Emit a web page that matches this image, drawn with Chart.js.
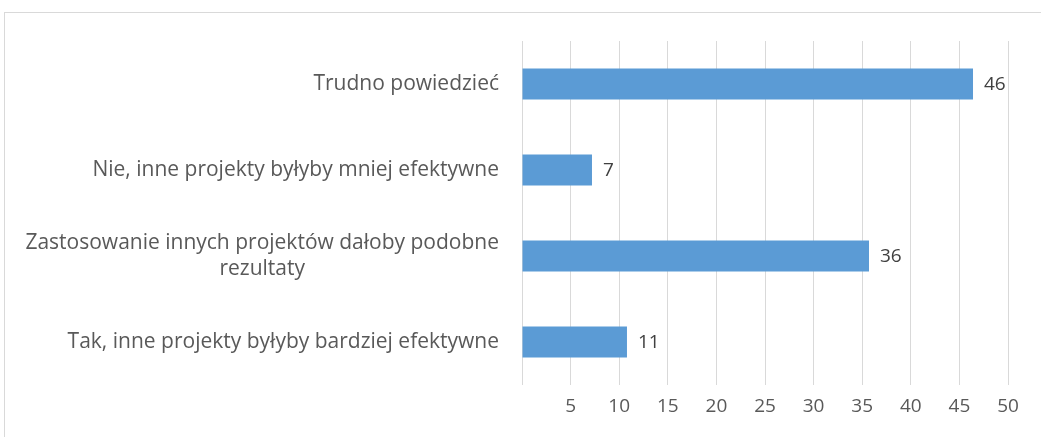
<!DOCTYPE html>
<html>
<head>
<meta charset="utf-8">
<script src="https://cdn.jsdelivr.net/npm/chart.js@4.4.0/dist/chart.umd.min.js"></script>
<style>
  html, body { margin: 0; padding: 0; background: #fff; }
  #wrap { position: relative; width: 1041px; height: 437px; overflow: hidden; }
  #frame { position: absolute; left: 4px; top: 12px; width: 1100px; height: 500px; border: 1px solid #d9d9d9; box-sizing: border-box; }
  #chart { position: absolute; left: 0; top: 0; }
</style>
</head>
<body>
<div id="wrap">
  <div id="frame"></div>
  <canvas id="chart" width="1041" height="437"></canvas>
</div>
<script>
// dane z wykresu (od góry do dołu)
const categories = [
  ["Trudno powiedzieć"],
  ["Nie, inne projekty byłyby mniej efektywne"],
  ["Zastosowanie innych projektów dałoby podobne", "rezultaty"],
  ["Tak, inne projekty byłyby bardziej efektywne"],
]
const values = [46.4, 7.2, 35.7, 10.8]
const xTicks = [0, 5, 10, 15, 20, 25, 30, 35, 40, 45, 50]

const FONT = "'Open Sans', sans-serif"
const LABEL_SIZE = 21
const NUM_SIZE = 19

// etykiety kategorii (wyśrodkowane jak w Excelu, gdy są dwie linie)
const categoryLabels = {
  id: "categoryLabels",
  afterDraw(chart) {
    const ctx = chart.ctx
    const y = chart.scales.y
    const right = chart.chartArea.left - 23
    ctx.save()
    ctx.font = `${LABEL_SIZE}px ${FONT}`
    ctx.fillStyle = "#595959"
    ctx.textBaseline = "middle"
    ctx.textAlign = "center"
    categories.forEach((lines, i) => {
      const cy = y.getPixelForTick(i)
      const lh = 26
      const maxW = Math.max(...lines.map((l) => ctx.measureText(l).width))
      const center = right - maxW / 2
      lines.forEach((line, j) => {
        const ly = cy + (j - (lines.length - 1) / 2) * lh
        ctx.fillText(line, center, ly)
      })
    })
    ctx.restore()
  },
}

// etykiety wartości przy słupkach
const valueLabels = {
  id: "valueLabels",
  afterDatasetsDraw(chart) {
    const ctx = chart.ctx
    const meta = chart.getDatasetMeta(0)
    ctx.save()
    ctx.font = `${NUM_SIZE}px ${FONT}`
    ctx.fillStyle = "#404040"
    ctx.textAlign = "left"
    ctx.textBaseline = "middle"
    meta.data.forEach((bar, i) => {
      ctx.fillText(Math.round(values[i]), bar.x + 11, bar.y + 1)
    })
    ctx.restore()
  },
}

new Chart(document.getElementById("chart"), {
  type: "bar",
  data: {
    labels: categories,
    datasets: [
      {
        data: values,
        backgroundColor: "#5b9bd5",
        borderWidth: 0,
        barPercentage: 0.36,
        categoryPercentage: 1,
      },
    ],
  },
  options: {
    indexAxis: "y",
    responsive: false,
    animation: false,
    layout: { padding: { top: 41, right: 33, left: 0, bottom: 0 } },
    plugins: {
      legend: { display: false },
      tooltip: { enabled: false },
    },
    scales: {
      x: {
        min: 0,
        max: 50,
        afterBuildTicks: (scale) => {
          scale.ticks = xTicks.map((v) => ({ value: v }))
        },
        afterFit: (scale) => {
          scale.height = 52
        },
        grid: { color: "#d9d9d9", lineWidth: 1, drawTicks: false },
        border: { display: false },
        ticks: {
          padding: 10,
          color: "#595959",
          font: { family: FONT, size: NUM_SIZE },
          callback: (v) => (v === 0 ? "" : v),
          maxRotation: 0,
        },
      },
      y: {
        afterFit: (scale) => {
          scale.width = 522
        },
        grid: { display: false },
        border: { display: false },
        ticks: { display: false },
      },
    },
  },
  plugins: [categoryLabels, valueLabels],
})
</script>
</body>
</html>
